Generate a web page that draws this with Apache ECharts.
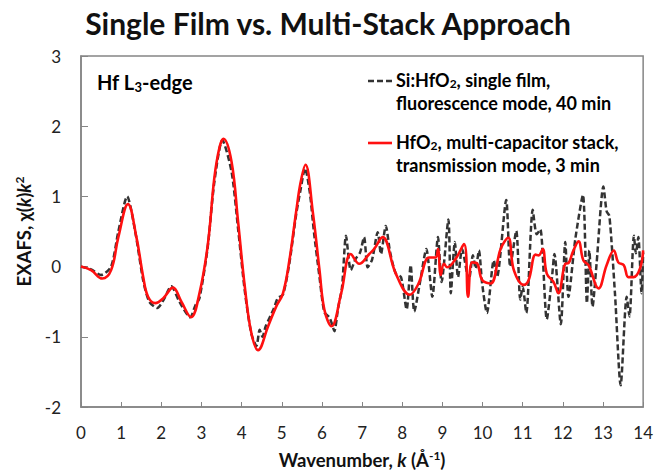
<!DOCTYPE html>
<html>
<head>
<meta charset="utf-8">
<script src="https://cdn.jsdelivr.net/npm/echarts@6/dist/echarts.min.js"></script>
<style>html,body{margin:0;padding:0;background:#fff}#c{width:656px;height:474px}</style>
</head>
<body>
<div id="c"></div>
<script>
// Single film (fluorescence) — dashed black
const kSingle = [0,0.25,0.5,0.75,0.93,1.15,1.35,1.55,1.7,1.9,2.05,2.25,2.45,2.72,2.85,2.95,3.15,3.32,3.52,3.75,3.91,4.08,4.24,4.37,4.45,4.52,4.6,4.8,4.9,5.03,5.19,5.36,5.47,5.58,5.7,5.8,5.94,6.06,6.18,6.24,6.31,6.4,6.5,6.6,6.72,6.84,6.95,7.05,7.14,7.25,7.39,7.47,7.59,7.7,7.84,7.97,8.11,8.21,8.30,8.45,8.6,8.75,8.89,8.98,9.15,9.21,9.31,9.39,9.49,9.66,9.76,9.83,9.91,9.99,10.11,10.28,10.36,10.59,10.69,10.84,10.94,11.0,11.09,11.25,11.35,11.44,11.6,11.73,11.79,11.95,12.06,12.14,12.31,12.5,12.6,12.66,12.74,12.84,13.01,13.09,13.16,13.3,13.44,13.59,13.66,13.77,13.82,13.88,13.96,14];
const vSingle = [0,-0.04,-0.12,0.0,0.5,1.0,0.5,-0.2,-0.5,-0.59,-0.48,-0.28,-0.5,-0.72,-0.55,-0.45,0.25,1.2,1.80,1.35,0.55,-0.35,-0.95,-1.13,-0.9,-1.0,-0.85,-0.6,-0.45,-0.4,0.05,0.75,1.1,1.40,1.05,0.5,-0.15,-0.65,-0.72,-0.8,-0.92,-0.6,-0.3,0.44,-0.05,0.11,0.2,0.42,-0.01,0.1,0.49,0.18,0.58,0.2,-0.1,-0.15,-0.61,0.02,-0.64,-0.2,0.25,-0.43,0.42,-0.22,0.67,-0.38,0.35,-0.15,0.25,-0.19,0.16,-0.03,0.23,-0.24,-0.66,0.09,-0.15,0.95,0.0,0.51,-0.47,-0.29,-0.66,0.81,0.46,0.53,-0.75,-0.15,0.18,-0.82,0.35,-0.43,0.39,1.02,-0.52,0.23,-0.57,0.04,1.14,0.79,0.72,-0.4,-1.69,-0.43,-0.71,0.44,0.19,0.42,-0.38,0.2];
// Multi-capacitor stack (transmission) — solid red
const kStack = [0,0.25,0.53,0.75,0.93,1.17,1.38,1.55,1.67,1.85,2.05,2.29,2.5,2.74,2.95,3.16,3.32,3.45,3.55,3.75,3.91,4.08,4.24,4.41,4.66,4.86,5.03,5.19,5.36,5.47,5.59,5.77,5.94,6.06,6.24,6.48,6.72,6.93,7.18,7.3,7.51,7.84,8.19,8.4,8.67,8.83,8.89,8.96,9.04,9.12,9.33,9.54,9.64,9.74,9.87,9.99,10.2,10.45,10.64,10.78,11.03,11.15,11.32,11.40,11.5,11.6,11.77,11.89,12.06,12.14,12.25,12.39,12.51,12.64,12.89,13.09,13.27,13.38,13.52,13.63,13.76,13.92,14];
const vStack = [0,-0.05,-0.17,-0.05,0.42,0.89,0.42,-0.15,-0.43,-0.52,-0.45,-0.30,-0.5,-0.72,-0.38,0.32,1.26,1.7,1.82,1.49,0.65,-0.29,-0.94,-1.19,-0.85,-0.57,-0.38,0.09,0.79,1.2,1.45,0.79,-0.05,-0.61,-0.85,-0.38,0.18,0.04,0.18,0.25,0.42,-0.10,-0.40,-0.25,0.13,0.13,0.25,-0.12,0.04,-0.01,0.11,0.32,-0.43,0.06,0.04,-0.19,-0.24,0.25,0.41,-0.05,-0.26,-0.19,0.17,0.16,0.25,-0.10,-0.22,-0.38,0.04,0.05,0.21,0.36,0.09,0.02,-0.31,0.02,0.23,0.06,0.02,-0.15,-0.15,-0.03,0.23];
const xTicks = [0,1,2,3,4,5,6,7,8,9,10,11,12,13,14];
const yTicks = [-2,-1,0,1,2,3];

const FF = 'Lato, "Open Sans", sans-serif';
const chart = echarts.init(document.getElementById('c'), null, {renderer: 'svg'});
const pair = (ks, vs) => ks.map((k, i) => [k, vs[i]]);
function mkRich(size) {
  const base = {fontFamily: FF, fontWeight: 'bold', fontSize: size, color: '#111'};
  const small = Math.round(size * 0.64);
  return {
    b: Object.assign({}, base),
    i: Object.assign({}, base, {fontStyle: 'italic'}),
    sub: Object.assign({}, base, {fontSize: small, padding: [Math.round(size * 0.45), 0, 0, 0]}),
    sup: Object.assign({}, base, {fontSize: small, padding: [0, 0, Math.round(size * 0.48), 0]})
  };
}
const richAxis = mkRich(18.5);
const richLeg = mkRich(18);
const richHf = mkRich(20);

chart.setOption({
  animation: false,
  backgroundColor: '#fff',
  title: {
    text: 'Single Film vs. Multi-Stack Approach',
    left: 'center', top: 3,
    textStyle: {fontFamily: FF, fontWeight: 'bold', fontSize: 30, color: '#111'}
  },
  grid: {left: 81, right: 11, top: 56, bottom: 62, show: true, borderColor: '#858585', borderWidth: 1.5},
  xAxis: {
    type: 'value', min: 0, max: 14, interval: 1,
    name: '{b|Wavenumber, }{i|k}{b| (Å}{sup|-1}{b|)}',
    nameLocation: 'middle', nameGap: 42,
    nameTextStyle: {rich: richAxis},
    axisLine: {show: true, onZero: false, lineStyle: {color: '#858585', width: 1.5}},
    axisTick: {show: true, inside: true, length: 5, lineStyle: {color: '#858585'}},
    splitLine: {show: false},
    axisLabel: {margin: 17, fontFamily: FF, fontSize: 17, color: '#222',
      formatter: v => xTicks.includes(v) ? String(v) : ''}
  },
  yAxis: {
    type: 'value', min: -2, max: 3, interval: 1,
    name: '{b|EXAFS, χ(}{i|k}{b|)}{i|k}{sup|2}',
    nameLocation: 'middle', nameGap: 47, nameRotate: 90,
    nameTextStyle: {rich: richAxis},
    axisLine: {show: true, onZero: false, lineStyle: {color: '#858585', width: 1.5}},
    axisTick: {show: true, inside: true, length: 7, lineStyle: {color: '#858585'}},
    splitLine: {show: false},
    axisLabel: {margin: 20, fontFamily: FF, fontSize: 17, color: '#222',
      formatter: v => yTicks.includes(v) ? String(v) : ''}
  },
  series: [
    {
      name: 'single', type: 'line', data: pair(kSingle, vSingle), showSymbol: false, smooth: 0.25,
      lineStyle: {color: '#333', width: 2.5, type: [6, 3]}, z: 2
    },
    {
      name: 'stack', type: 'line', data: pair(kStack, vStack), showSymbol: false, smooth: 0.4,
      lineStyle: {color: '#ff1010', width: 2.6}, z: 3
    }
  ],
  graphic: [
    {type: 'text', left: 97, top: 72, style: {text: '{b|Hf L}{sub|3}{b|-edge}', rich: richHf}},
    {type: 'line', shape: {x1: 368, y1: 81, x2: 392, y2: 81}, style: {stroke: '#333', lineWidth: 2.5, lineDash: [6, 3]}},
    {type: 'text', left: 396, top: 68, style: {text: '{b|Si:HfO}{sub|2}{b|, single film,}\n{b|fluorescence mode, 40 min}', rich: richLeg, lineHeight: 23}},
    {type: 'line', shape: {x1: 368, y1: 143, x2: 392, y2: 143}, style: {stroke: '#ff1010', lineWidth: 2.6}},
    {type: 'text', left: 396, top: 130, style: {text: '{b|HfO}{sub|2}{b|, multi-capacitor stack,}\n{b|transmission mode, 3 min}', rich: richLeg, lineHeight: 23}}
  ]
});
</script>
</body>
</html>
